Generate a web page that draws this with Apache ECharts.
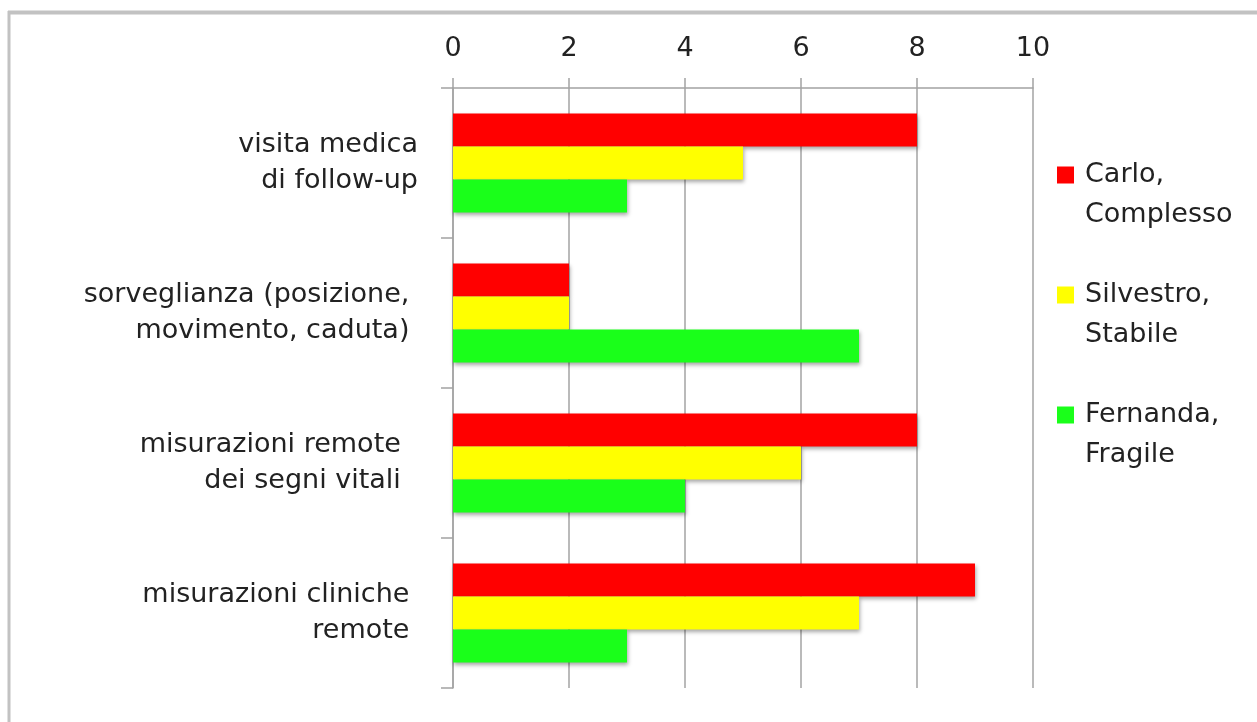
<!DOCTYPE html>
<html>
<head>
<meta charset="utf-8">
<script src="https://cdn.jsdelivr.net/npm/echarts@6/dist/echarts.min.js"></script>
<style>
  html, body { margin: 0; padding: 0; background: #fff; }
  #chart { width: 1257px; height: 722px; }
</style>
</head>
<body>
<div id="chart"></div>
<script>
// Categories (top to bottom); trailing spaces as in the original labels
const categories = [
  'visita medica\ndi follow-up',
  'sorveglianza (posizione, \nmovimento, caduta) ',
  'misurazioni remote  \ndei segni vitali  ',
  'misurazioni cliniche \nremote '
];
const seriesNames = ['Carlo,\nComplesso', 'Silvestro,\nStabile', 'Fernanda,\nFragile'];
const carlo = [8, 2, 8, 9];
const silvestro = [5, 2, 6, 7];
const fernanda = [3, 7, 4, 3];
const xTicks = [0, 2, 4, 6, 8, 10];

const colors = ['#ff0000', '#ffff00', '#1aff1a'];
const values = [carlo, silvestro, fernanda];

const chart = echarts.init(document.getElementById('chart'));
const font = 'DejaVu Sans';
const gridColor = '#a3a3a3';
const fs = 27;

chart.setOption({
  animation: false,
  backgroundColor: '#ffffff',
  textStyle: { fontFamily: font },
  graphic: [
    { type: 'line', shape: { x1: 8, y1: 12.5, x2: 1257, y2: 12.5 }, style: { stroke: '#c2c2c2', lineWidth: 4 } },
    { type: 'line', shape: { x1: 9, y1: 11, x2: 9, y2: 722 }, style: { stroke: '#c2c2c2', lineWidth: 3 } }
  ],
  grid: { left: 453, right: 224, top: 88, bottom: 34, containLabel: false },
  legend: {
    orient: 'vertical',
    left: 1057,
    top: 115,
    padding: 0,
    itemGap: 0,
    itemWidth: 17,
    itemHeight: 17,
    icon: 'rect',
    data: seriesNames,
    formatter: name => '\n' + name,
    textStyle: {
      fontFamily: font,
      fontSize: fs,
      lineHeight: 40,
      color: '#222',
      padding: [0, 0, 0, 6]
    }
  },
  xAxis: {
    type: 'value',
    position: 'top',
    min: xTicks[0],
    max: xTicks[xTicks.length - 1],
    interval: 2,
    axisLine: { show: true, lineStyle: { color: gridColor, width: 1.5 } },
    axisTick: { show: true, length: 10, lineStyle: { color: gridColor, width: 1.5 } },
    splitLine: { show: true, lineStyle: { color: gridColor, width: 1.5 } },
    axisLabel: { fontFamily: font, fontSize: fs, color: '#222', margin: 26 }
  },
  yAxis: {
    type: 'category',
    inverse: true,
    data: categories,
    axisLine: { show: true, lineStyle: { color: gridColor, width: 1.5 } },
    axisTick: { show: true, length: 12, lineStyle: { color: gridColor, width: 1.5 } },
    axisLabel: {
      fontFamily: font, fontSize: fs, lineHeight: 36, color: '#222',
      margin: 35, align: 'right', padding: [4, 0, 0, 0]
    }
  },
  series: seriesNames.map((name, i) => ({
    name: name,
    type: 'bar',
    data: values[i],
    barGap: 0,
    barCategoryGap: '34%',
    itemStyle: {
      color: colors[i],
      shadowColor: 'rgba(0,0,0,0.35)',
      shadowBlur: 4,
      shadowOffsetX: 1,
      shadowOffsetY: 2
    }
  }))
});
</script>
</body>
</html>
